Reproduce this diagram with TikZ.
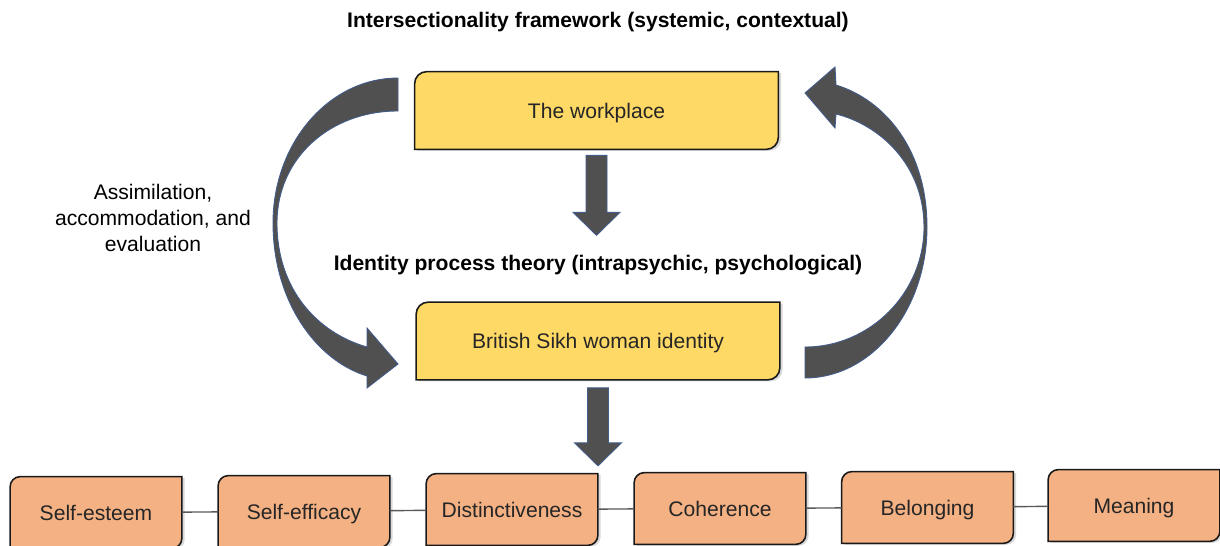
\documentclass[tikz,border=0pt]{standalone}
\usepackage{fontspec}
\setmainfont{Liberation Sans}
\usepackage{xcolor}
\usetikzlibrary{calc, shadows, backgrounds}

\definecolor{boxyellow}{RGB}{255,217,102}
\definecolor{boxorange}{RGB}{244,177,131}
\definecolor{arrowgray}{RGB}{80,80,80}
\definecolor{arrowedge}{RGB}{66,92,140}

% box outline with round top-left and bottom-right corners
\newcommand\cornerbox[3]{%
  \filldraw[boxline, fill=#2]
    (#1.south west) -- ([yshift=-#3]#1.north west)
    arc[start angle=180, end angle=90, radius=#3] -- (#1.north east)
    -- ([yshift=#3]#1.south east)
    arc[start angle=0, end angle=-90, radius=#3] -- cycle;}

% straight block arrow pointing down, from #1 to the tip #2
\newcommand\downblock[2]{%
  \filldraw[fatarrow]
    ($(#1)+(-0.21,0)$) -- ($(#2)+(-0.21,0.46)$) -- ($(#2)+(-0.47,0.46)$)
    -- (#2) -- ($(#2)+(0.47,0.46)$) -- ($(#2)+(0.21,0.46)$)
    -- ($(#1)+(0.21,0)$) -- cycle;}

\begin{document}
\begin{tikzpicture}[
    font=\fontsize{12}{14.8}\selectfont,
    heading/.style={font=\fontsize{12}{14.8}\selectfont\bfseries},
    ybox/.style={minimum width=7.26cm, minimum height=1.54cm, text depth=0pt, text=black!85},
    obox/.style={minimum width=3.42cm, minimum height=1.42cm, text depth=0pt, text=black!85},
    boxline/.style={draw=black!90, line width=0.9pt,
        drop shadow={shadow xshift=1.6pt, shadow yshift=-0.8pt, opacity=0.3}},
    fatarrow/.style={fill=arrowgray, draw=arrowedge, line width=0.5pt},
    link/.style={draw=black!65, line width=0.8pt},
  ]
  \useasboundingbox (0,0) rectangle (24.4,10.9);

  \node[heading] (ift) at (11.96,10.46) {Intersectionality framework (systemic, contextual)};
  \node[ybox] (work) at (11.93,8.69) {The workplace};
  \node[heading] (ipt) at (11.96,5.60) {Identity process theory (intrapsychic, psychological)};
  \node[ybox] (bsw) at (11.96,4.08) {British Sikh woman identity};
  \node[align=center] (aae) at (3.06,6.54) {Assimilation,\\accommodation, and\\evaluation};

  % the six identity principles
  \foreach \name/\txt/\x/\y in {esteem/Self-esteem/1.92/0.65,
      efficacy/Self-efficacy/6.08/0.67, distinct/Distinctiveness/10.24/0.71,
      coherence/Coherence/14.40/0.73, belonging/Belonging/18.55/0.75,
      meaning/Meaning/22.68/0.79}
    \node[obox] (\name) at (\x,\y) {\txt};

  \foreach \a/\b in {esteem/efficacy, efficacy/distinct, distinct/coherence,
      coherence/belonging, belonging/meaning}
    \draw[link] (\a) -- (\b);

  \begin{scope}[on background layer]
    \foreach \n in {work,bsw} {\cornerbox{\n}{boxyellow}{0.24cm}}
    \foreach \n in {esteem,efficacy,distinct,coherence,belonging,meaning}
      {\cornerbox{\n}{boxorange}{0.2cm}}
  \end{scope}

  % down arrows
  \coordinate (top1) at ($(work.south)+(0,-0.12)$);
  \coordinate (tip1) at ($(work.south)+(0,-1.72)$);
  \coordinate (top2) at ($(bsw.south)+(0,-0.16)$);
  \coordinate (tip2) at ($(bsw.south)+(0,-1.72)$);
  \downblock{top1}{tip1}
  \downblock{top2}{tip2}

  % left loop: workplace -> identity
  \filldraw[fatarrow] (7.96,9.34) .. controls (6.58,9.34) and (5.46,8.04) .. (5.46,6.44)
    .. controls (5.46,4.90) and (6.30,3.70) .. (7.34,3.38)
    -- (7.34,3.14) -- (7.96,3.62) -- (7.34,4.34) -- (7.34,3.96)
    .. controls (6.36,4.24) and (5.54,5.10) .. (5.54,6.44)
    .. controls (5.54,7.74) and (6.60,8.68) .. (7.96,8.68) -- cycle;

  % right loop: identity -> workplace
  \filldraw[fatarrow] (16.10,3.34) .. controls (17.44,3.34) and (18.54,4.70) .. (18.54,6.36)
    .. controls (18.54,7.90) and (17.70,8.90) .. (16.72,9.20)
    -- (16.70,9.56) -- (16.10,9.04) -- (16.70,8.34) -- (16.72,8.62)
    .. controls (17.60,8.40) and (18.48,7.60) .. (18.48,6.36)
    .. controls (18.48,5.04) and (17.40,3.96) .. (16.10,3.96) -- cycle;

\end{tikzpicture}
\end{document}
